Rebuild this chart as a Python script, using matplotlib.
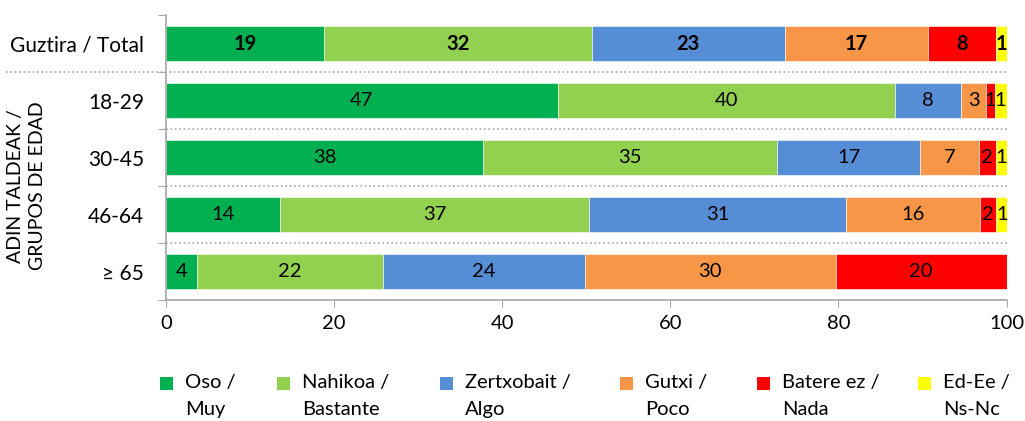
import matplotlib
matplotlib.use("Agg")
import matplotlib.pyplot as plt
import numpy as np
from matplotlib.patches import Rectangle

plt.rcParams['font.family'] = ['Lato', 'DejaVu Sans']

# categories (top to bottom)
groups = ["Guztira / Total", "18-29", "30-45", "46-64", "\u2265 65"]

# percentages per answer (drawn widths; labels are rounded)
oso = [18.8, 46.6, 37.7, 13.6, 3.7]
nahikoa = [31.9, 40.1, 35.0, 36.7, 22.1]
zertxobait = [22.9, 7.9, 17.0, 30.6, 24.0]
gutxi = [17.1, 3.0, 7.0, 15.9, 29.9]
batere = [8.1, 1.0, 2.0, 2.0, 20.3]
ed_ee = [1.2, 1.4, 1.3, 1.25, 0.0]

series = [oso, nahikoa, zertxobait, gutxi, batere, ed_ee]
legend_labels = ["Oso /\nMuy", "Nahikoa /\nBastante", "Zertxobait /\nAlgo",
                 "Gutxi /\nPoco", "Batere ez /\nNada", "Ed-Ee /\nNs-Nc"]
colors = ["#00B050", "#92D050", "#558ED5", "#F79646", "#FF0000", "#FFFF00"]

FS = 14.5

fig = plt.figure(figsize=(10.25, 4.21), dpi=100)
ax = fig.add_axes([0.162, 0.287, 0.820, 0.677])

y = np.arange(len(groups))
left = np.zeros(len(groups))
for vals, col in zip(series, colors):
    vals = np.array(vals)
    ax.barh(y, vals, left=left, height=0.62, color=col, edgecolor='white', linewidth=0.4)
    for i, v in enumerate(vals):
        if v <= 0:
            continue
        ax.text(left[i] + v / 2, y[i], "%d" % round(v), ha='center', va='center',
                fontsize=FS, color='black', fontweight='bold' if i == 0 else 'normal')
    left += vals

ax.set_xlim(0, 100)
ax.set_ylim(len(groups) - 0.5, -0.5)

ax.set_xticks(np.arange(0, 101, 20))
ax.tick_params(axis='x', direction='out', length=5, color='#A6A6A6', labelsize=FS, pad=6)

# category boundaries as major ticks, labels on minor ticks
ax.set_yticks(np.arange(-0.5, len(groups), 1.0))
ax.set_yticklabels([])
ax.set_yticks(y, minor=True)
ax.set_yticklabels(groups, minor=True)
ax.tick_params(axis='y', which='major', direction='out', length=6, color='#A6A6A6')
ax.tick_params(axis='y', which='minor', length=0, labelsize=FS + 0.5, pad=16)

for s in ['top', 'right']:
    ax.spines[s].set_visible(False)
for s in ['left', 'bottom']:
    ax.spines[s].set_color('#A6A6A6')
    ax.spines[s].set_linewidth(1.2)

# dotted separators between rows
tr = ax.get_yaxis_transform()
ax.plot([-0.191, 1.0], [0.5, 0.5], transform=tr, clip_on=False,
        color='#A6A6A6', linestyle=':', linewidth=1.2)
for b in np.arange(1.5, len(groups) - 0.5, 1.0):
    ax.plot([0.0, 1.0], [b, b], transform=tr, clip_on=False,
            color='#A6A6A6', linestyle=':', linewidth=1.2)

ax.text(-0.166, 2.5, "ADIN TALDEAK /\nGRUPOS DE EDAD", transform=tr, rotation=90,
        ha='center', va='center', fontsize=FS - 0.5, linespacing=1.35)

# legend drawn by hand to match the layout
leg_x = [160, 277, 440, 620, 757, 918]
for lx, lab, col in zip(leg_x, legend_labels, colors):
    fig.patches.append(Rectangle((lx / 1025, 1 - 390 / 421), 13 / 1025, 13 / 421,
                                 transform=fig.transFigure, facecolor=col,
                                 edgecolor='none'))
    fig.text((lx + 25) / 1025, 1 - 374 / 421, lab, ha='left', va='top', fontsize=FS,
             linespacing=1.7)

fig.savefig("out.png", dpi=100)
